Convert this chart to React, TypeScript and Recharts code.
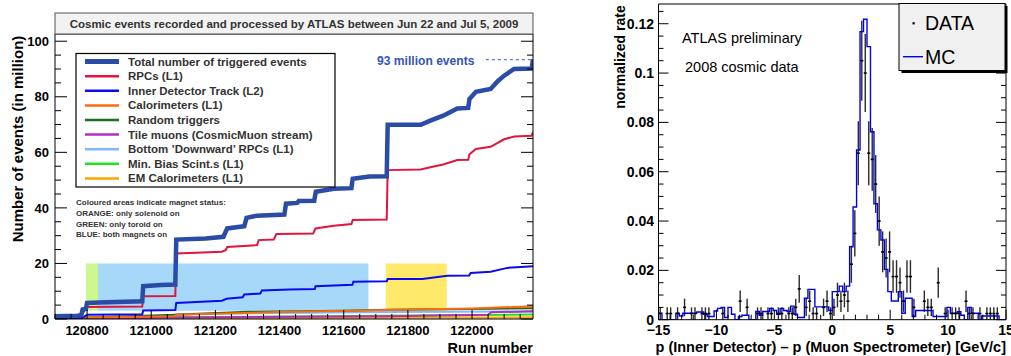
import React from 'react';
import { ComposedChart, Line, XAxis, YAxis, ReferenceArea, ReferenceLine, Scatter, ErrorBar } from 'recharts';

const FONT = '"Liberation Sans", Arial, Helvetica, sans-serif';
type Pair = [number, number];

// ---------------- Left panel data ----------------
const RUN_DOMAIN: [number, number] = [120700, 122190];
const EVENTS_DOMAIN: [number, number] = [0, 102.6];
const runMajorTicks = [120800, 121000, 121200, 121400, 121600, 121800, 122000];
const runMinorTicks = Array.from({ length: 30 }, (_, i) => 120700 + 50 * i);
const eventsMajorTicks = [0, 20, 40, 60, 80, 100];
const eventsMinorTicks = Array.from({ length: 21 }, (_, i) => 5 * i);

const seriesNames = [
  'Total number of triggered events',
  'RPCs (L1)',
  'Inner Detector Track (L2)',
  'Calorimeters (L1)',
  'Random triggers',
  'Tile muons (CosmicMuon stream)',
  'Bottom \u2019Downward\u2019 RPCs (L1)',
  'Min. Bias Scint.s (L1)',
  'EM Calorimeters (L1)',
];

const totalEvents: Pair[] = [
  [120700, 1.0], [120770, 1.2], [120782, 1.4], [120786, 3.4], [120796, 3.6], [120800, 5.8], [120860, 6.0],
  [120972, 6.4], [120975, 11.8], [121030, 12.2], [121075, 12.4], [121078, 28.6], [121170, 29.0],
  [121225, 29.6], [121232, 31.4], [121237, 32.6], [121290, 33.4], [121297, 36.4], [121330, 37.2],
  [121415, 37.6], [121420, 41.5], [121455, 41.8], [121460, 42.5], [121508, 42.6], [121513, 45.8],
  [121569, 46.9], [121624, 47.1], [121628, 50.5], [121680, 51.3], [121734, 51.4], [121737, 69.9],
  [121840, 69.9], [121870, 71.4], [121910, 73.2], [121954, 75.8], [121988, 76.0], [121992, 79.2],
  [122012, 81.8], [122058, 82.8], [122080, 85.6], [122100, 87.6], [122131, 90.0], [122186, 90.2], [122190, 93.5],
];
const rpcEvents: Pair[] = [
  [120700, 0.8], [120782, 1.0], [120790, 2.8], [120800, 4.3], [120972, 4.5], [120975, 8.2], [121075, 8.3],
  [121078, 23.6], [121160, 23.9], [121220, 24.2], [121232, 24.8], [121237, 25.9], [121330, 26.6],
  [121335, 28.4], [121382, 28.6], [121390, 30.6], [121505, 30.8], [121512, 32.6], [121569, 33.6],
  [121624, 34.2], [121628, 35.6], [121734, 35.8], [121737, 53.6], [121840, 53.8], [121870, 54.6],
  [121910, 55.6], [121954, 57.2], [121988, 57.3], [121992, 59.3], [122012, 61.2], [122058, 62.0],
  [122100, 64.7], [122131, 65.7], [122186, 66.0], [122190, 67.3],
];
const idTrackEvents: Pair[] = [
  [120700, 0.3], [120785, 0.4], [120800, 1.5], [120972, 1.7], [120975, 3.1], [121075, 3.2], [121078, 5.8],
  [121220, 6.6], [121235, 7.3], [121285, 7.8], [121290, 8.8], [121340, 9.2], [121345, 10.3], [121430, 10.6],
  [121510, 10.8], [121512, 11.8], [121627, 12.3], [121630, 13.4], [121734, 13.6], [121737, 14.4],
  [121845, 14.4], [121923, 15.6], [121991, 15.7], [121996, 16.6], [122058, 17.0], [122110, 18.4], [122190, 19.0],
];
const caloEvents: Pair[] = [
  [120700, 0.2], [120800, 0.5], [121075, 1.0], [121078, 1.5], [121400, 2.5], [121737, 3.2], [122000, 3.8], [122190, 4.6],
];
const randomEvents: Pair[] = [
  [120700, 0.1], [120800, 0.5], [121078, 1.5], [121300, 2.6], [121600, 3.0], [121737, 3.3], [122000, 3.6], [122190, 3.9],
];
const tileEvents: Pair[] = [
  [120700, 0.0], [121078, 0.5], [121737, 1.0], [122050, 1.5], [122060, 2.4], [122190, 2.8],
];
const bottomRpcEvents: Pair[] = [
  [120700, 0.1], [121075, 0.3], [121078, 1.8], [121400, 2.2], [121737, 2.5], [122190, 2.7],
];
const minBiasEvents: Pair[] = [
  [120700, 0.0], [121078, 0.6], [121737, 1.2], [122190, 1.6],
];
const emCaloEvents: Pair[] = [
  [120700, 0.0], [121078, 0.3], [122190, 0.6],
];

// magnet status bands: [from run, to run, from events, to events]
const magnetBands: [number, number, number, number][] = [
  [120797, 120834, 3, 20],
  [120834, 121677, 3, 20],
  [121731, 121921, 3, 20],
];
const magnetColors = ['#ccf68e', '#a5d8f9', '#ffe96a'];
const totalLabelLevel = 93.4;
const totalLabelFrom = 122043;

const seriesColors = ['#2a4ca6', '#e3143e', '#0b0bf0', '#ff6a10', '#1f6e1f', '#b22fbf', '#80b8ff', '#22e022', '#ffa500'];
const seriesWidths = [4.5, 2, 2, 2, 2, 2, 2, 2, 2];
const seriesData = [totalEvents, rpcEvents, idTrackEvents, caloEvents, randomEvents, tileEvents, bottomRpcEvents, minBiasEvents, emCaloEvents];

// ---------------- Right panel data ----------------
const P_DOMAIN: [number, number] = [-15, 15];
const RATE_DOMAIN: [number, number] = [0, 0.128];
const pMajorTicks = [-15, -10, -5, 0, 5, 10, 15];
const pMinorTicks = Array.from({ length: 31 }, (_, i) => -15 + i);
const rateMajorTicks = [0, 0.02, 0.04, 0.06, 0.08, 0.1, 0.12];
const rateMinorTicks = Array.from({ length: 26 }, (_, i) => 0.005 * i);
const BIN_START = -15;
const BIN_WIDTH = 0.3;
const DATA_NORM = 0.0025; // normalized rate of one event

const mcRate = [
  0.0026, 0, 0, 0, 0, 0.0026, 0.0015, 0.0026, 0.0026, 0.0026,
  0.0026, 0.0031, 0.0031, 0.0022, 0.0013, 0.0013, 0.0035, 0.0046, 0.005, 0.0009,
  0.005, 0.0022, 0, 0.0013, 0.0018, 0.0018, 0, 0, 0.0033, 0.0018,
  0.0033, 0.0033, 0.0046, 0.0037, 0.0022, 0.0046, 0.0037, 0.0033, 0.0055, 0.0022,
  0.0009, 0.0009, 0.0087, 0.0123, 0.0123, 0.0052, 0.0052, 0.0052, 0.0052, 0.0037,
  0.0114, 0.0114, 0.0136, 0.0114, 0.0136, 0.0296, 0.0457, 0.0688, 0.1168, 0.1218,
  0.1107, 0.0762, 0.047, 0.0364, 0.0323, 0.0204, 0.0114, 0.0076, 0.0076, 0.0114,
  0.0026, 0.0087, 0.0087, 0.0013, 0.0037, 0.0037, 0.0037, 0.0037, 0.0037, 0.0013,
  0.0013, 0.0013, 0.0013, 0.005, 0.0026, 0.0026, 0.0032, 0.0018, 0, 0.005,
  0.0026, 0.0026, 0, 0.0015, 0.0015, 0.0015, 0.0015, 0.0015, 0, 0,
];
const dataCounts = [
  1, 0, 1, 1, 0, 1, 0, 2, 0, 1,
  1, 0, 1, 1, 1, 0, 0, 0, 1, 0,
  0, 0, 0, 3, 0, 2, 0, 0, 1, 1,
  0, 1, 1, 0, 1, 1, 0, 1, 1, 2,
  5, 0, 2, 3, 1, 1, 0, 2, 3, 1,
  2, 4, 3, 4, 3, 9, 14, 27, 42, 40,
  27, 26, 22, 16, 11, 10, 11, 7, 7, 6,
  3, 7, 7, 2, 0, 0, 3, 2, 2, 0,
  6, 0, 1, 0, 1, 1, 1, 0, 3, 1,
  1, 0, 1, 0, 1, 1, 1, 1, 0, 0,
];

const mcRows = [
  ...mcRate.map((r, i) => ({ x: BIN_START + BIN_WIDTH * i, y: r })),
  { x: P_DOMAIN[1], y: mcRate[mcRate.length - 1] },
];
const dataRows = dataCounts
  .map((n, i) => ({ x: BIN_START + BIN_WIDTH * (i + 0.5), y: n * DATA_NORM, err: Math.sqrt(n) * DATA_NORM }))
  .filter((d) => d.y > 0);

// ---------------- helpers ----------------
type Side = 'bottom' | 'top' | 'left' | 'right';
const isIn = (list: number[], v: number) => list.some((m) => Math.abs(m - v) < 1e-9);

function mkTick(side: Side, majors: number[], lens: [number, number], fmt?: (v: number) => string, fs = 13, off = 0) {
  return (props: any) => {
    const { x, y, payload } = props;
    const v = payload.value;
    const major = isIn(majors, v);
    const len = major ? lens[0] : lens[1];
    let l: React.ReactNode;
    if (side === 'bottom') l = <line x1={x} x2={x} y1={y} y2={y - len} stroke="#000" strokeWidth={1} />;
    else if (side === 'top') l = <line x1={x} x2={x} y1={y} y2={y + len} stroke="#000" strokeWidth={1} />;
    else if (side === 'left') l = <line x1={x} x2={x + len} y1={y} y2={y} stroke="#000" strokeWidth={1} />;
    else l = <line x1={x} x2={x - len} y1={y} y2={y} stroke="#000" strokeWidth={1} />;
    let t: React.ReactNode = null;
    if (fmt && major) {
      const st = { fontFamily: FONT, fontSize: fs, fontWeight: 700, fill: '#000' } as const;
      if (side === 'bottom') t = <text x={x} y={y + off} textAnchor="middle" style={st}>{fmt(v)}</text>;
      else if (side === 'left') t = <text x={x - off} y={y + 0.36 * fs} textAnchor="end" style={st}>{fmt(v)}</text>;
    }
    return <g>{l}{t}</g>;
  };
}

function frameAxes(c: {
  xDomain: [number, number]; yDomain: [number, number];
  xMajor: number[]; xMinor: number[]; yMajor: number[]; yMinor: number[];
  xLen: [number, number]; xTopLen: [number, number]; yLen: [number, number];
  xFmt: (v: number) => string; yFmt: (v: number) => string;
  fs: number; xOff: number; yOff: number;
}) {
  const common: any = {
    type: 'number', allowDataOverflow: true, interval: 0, tickLine: false, tickSize: 0, tickMargin: 0,
    axisLine: { stroke: '#000', strokeWidth: 1 },
  };
  const xt = Array.from(new Set([...c.xMinor, ...c.xMajor])).sort((a, b) => a - b);
  const yt = Array.from(new Set([...c.yMinor, ...c.yMajor])).sort((a, b) => a - b);
  return [
    <XAxis key="b" xAxisId="b" dataKey="x" orientation="bottom" height={1} domain={c.xDomain} ticks={xt} tick={mkTick('bottom', c.xMajor, c.xLen, c.xFmt, c.fs, c.xOff)} {...common} />,
    <XAxis key="t" xAxisId="t" orientation="top" height={1} domain={c.xDomain} ticks={xt} tick={mkTick('top', c.xMajor, c.xTopLen)} {...common} />,
    <YAxis key="l" yAxisId="l" dataKey="y" orientation="left" width={1} domain={c.yDomain} ticks={yt} tick={mkTick('left', c.yMajor, c.yLen, c.yFmt, c.fs, c.yOff)} {...common} />,
    <YAxis key="r" yAxisId="r" orientation="right" width={1} domain={c.yDomain} ticks={yt} tick={mkTick('right', c.yMajor, c.yLen)} {...common} />,
  ];
}

const toRows = (p: Pair[]) => p.map(([x, y]) => ({ x, y }));

function LeftChart() {
  const order = [8, 7, 6, 5, 4, 3, 2, 1, 0];
  // plot area: x 55..533, y 34..319
  return (
    <ComposedChart width={545} height={356} margin={{ top: 33, right: 11, bottom: 36, left: 54 }}>
      {frameAxes({
        xDomain: RUN_DOMAIN, yDomain: EVENTS_DOMAIN,
        xMajor: runMajorTicks, xMinor: runMinorTicks, yMajor: eventsMajorTicks, yMinor: eventsMinorTicks,
        xLen: [9, 5], xTopLen: [9, 4.5], yLen: [12, 6],
        xFmt: (v) => String(v), yFmt: (v) => String(v), fs: 13, xOff: 16.3, yOff: 6,
      })}
      {magnetBands.map((b, i) => (
        <ReferenceArea key={'band' + i} xAxisId="b" yAxisId="l" x1={b[0]} x2={b[1]} y1={b[2]} y2={b[3]}
          fill={magnetColors[i]} fillOpacity={1} stroke="none" ifOverflow="hidden" />
      ))}
      {order.map((k) => (
        <Line key={'s' + k} xAxisId="b" yAxisId="l" data={toRows(seriesData[k])} dataKey="y" type="linear"
          stroke={seriesColors[k]} strokeWidth={seriesWidths[k]} dot={false} activeDot={false}
          isAnimationActive={false} strokeLinejoin="miter" />
      ))}
      <ReferenceLine xAxisId="b" yAxisId="l" segment={[{ x: totalLabelFrom, y: totalLabelLevel }, { x: RUN_DOMAIN[1], y: totalLabelLevel }]}
        stroke="#5b7bd0" strokeWidth={1.3} strokeDasharray="3 3" />
    </ComposedChart>
  );
}

const dataShape = (p: any) => <rect x={p.cx - 1.5} y={p.cy - 0.8} width={3} height={1.6} fill="#000" />;

function RightChart() {
  // plot area (page coords): x 658.5..1006, y 4..319.7
  return (
    <ComposedChart width={451} height={356} margin={{ top: 3, right: 4, bottom: 35.3, left: 97.5 }}>
      {frameAxes({
        xDomain: P_DOMAIN, yDomain: RATE_DOMAIN,
        xMajor: pMajorTicks, xMinor: pMinorTicks, yMajor: rateMajorTicks, yMinor: rateMinorTicks,
        xLen: [10, 5], xTopLen: [10, 5], yLen: [10, 5],
        xFmt: (v) => (v < 0 ? '\u2212' + Math.abs(v) : String(v)),
        yFmt: (v) => (v === 0 ? '0' : String(+v.toFixed(2))),
        fs: 14, xOff: 15.5, yOff: 4.5,
      })}
      <Scatter xAxisId="b" yAxisId="l" data={dataRows} dataKey="y" shape={dataShape} isAnimationActive={false}>
        <ErrorBar dataKey="err" direction="y" width={0} stroke="#2b2b2b" strokeWidth={1.4} isAnimationActive={false} />
      </Scatter>
      <Line xAxisId="b" yAxisId="l" data={mcRows} dataKey="y" type="stepAfter" stroke="#0000e8" strokeWidth={1.4}
        dot={false} activeDot={false} isAnimationActive={false} />
    </ComposedChart>
  );
}

function Overlay() {
  const legY0 = 61.6;
  const legDy = 14.6;
  const t = (s: object) => ({ fontFamily: FONT, ...s });
  return (
    <svg width={1011} height={356} style={{ position: 'absolute', left: 0, top: 0, pointerEvents: 'none' }}>
      {/* left title box */}
      <rect x={55} y={13} width={478} height={21} fill="#f2f2f2" stroke="#555" strokeWidth={1} />
      <text x={294} y={27.6} textAnchor="middle" style={t({ fontSize: 11.5, fontWeight: 700, fill: '#333' })}>
        Cosmic events recorded and processed by ATLAS between Jun 22 and Jul 5, 2009
      </text>
      {/* left legend */}
      <rect x={76} y={53.5} width={259} height={133.5} fill="#fff" stroke="#000" strokeWidth={1.2} />
      {seriesNames.map((n, i) => (
        <g key={n}>
          <line x1={85} x2={119} y1={legY0 + legDy * i} y2={legY0 + legDy * i} stroke={seriesColors[i]} strokeWidth={i === 0 ? 5 : 2.5} />
          <text x={128} y={legY0 + legDy * i + 4} style={t({ fontSize: 11.5, fontWeight: 700, fill: '#333' })}>{n}</text>
        </g>
      ))}
      {['Coloured areas indicate magnet status:', 'ORANGE: only solenoid on', 'GREEN: only toroid on', 'BLUE: both magnets on'].map((s, i) => (
        <text key={s} x={76} y={205 + 10.8 * i} style={t({ fontSize: 8, fontWeight: 700, fill: '#333' })}>{s}</text>
      ))}
      <text x={377} y={65} style={t({ fontSize: 12.1, fontWeight: 700, fill: '#3355b5' })}>93 million events</text>
      <text transform="translate(17,139) rotate(-90)" textAnchor="middle" dominantBaseline="central"
        style={t({ fontSize: 15, fontWeight: 700, fill: '#000' })}>Number of events (in million)</text>
      <text x={533} y={353} textAnchor="end" style={t({ fontSize: 14.5, fontWeight: 700, fill: '#000' })}>Run number</text>

      {/* right panel texts */}
      <text transform="translate(620,57) rotate(-90)" textAnchor="middle" dominantBaseline="central"
        style={t({ fontSize: 14, fontWeight: 700, fill: '#000' })}>normalized rate</text>
      <text x={1006} y={352} textAnchor="end" style={t({ fontSize: 14.5, fontWeight: 700, fill: '#000' })}>
        p (Inner Detector) {'\u2013'} p (Muon Spectrometer) [GeV/c]
      </text>
      <text x={682} y={43} style={t({ fontSize: 14.5, fill: '#000' })}>ATLAS preliminary</text>
      <text x={685} y={72} style={t({ fontSize: 14.5, fill: '#000' })}>2008 cosmic data</text>
      {/* right legend */}
      <rect x={901.5} y={6} width={106} height={67} fill="#000" />
      <rect x={899} y={3.5} width={106} height={67} fill="#f0f0f0" stroke="#000" strokeWidth={1} />
      <rect x={912.5} y={22.2} width={2.2} height={2.2} fill="#000" />
      <text x={925} y={30.3} style={t({ fontSize: 19.5, fill: '#000' })}>DATA</text>
      <line x1={903} x2={923} y1={56.7} y2={56.7} stroke="#0000e8" strokeWidth={1.4} />
      <text x={925} y={63.7} style={t({ fontSize: 19.5, fill: '#000' })}>MC</text>
    </svg>
  );
}

export default function App() {
  return (
    <div style={{ position: 'absolute', left: 0, top: 0, width: 1011, height: 356, background: '#fff', overflow: 'hidden', fontFamily: FONT }}>
      <div style={{ position: 'absolute', left: 0, top: 0 }}><LeftChart /></div>
      <div style={{ position: 'absolute', left: 560, top: 0 }}><RightChart /></div>
      <Overlay />
    </div>
  );
}
